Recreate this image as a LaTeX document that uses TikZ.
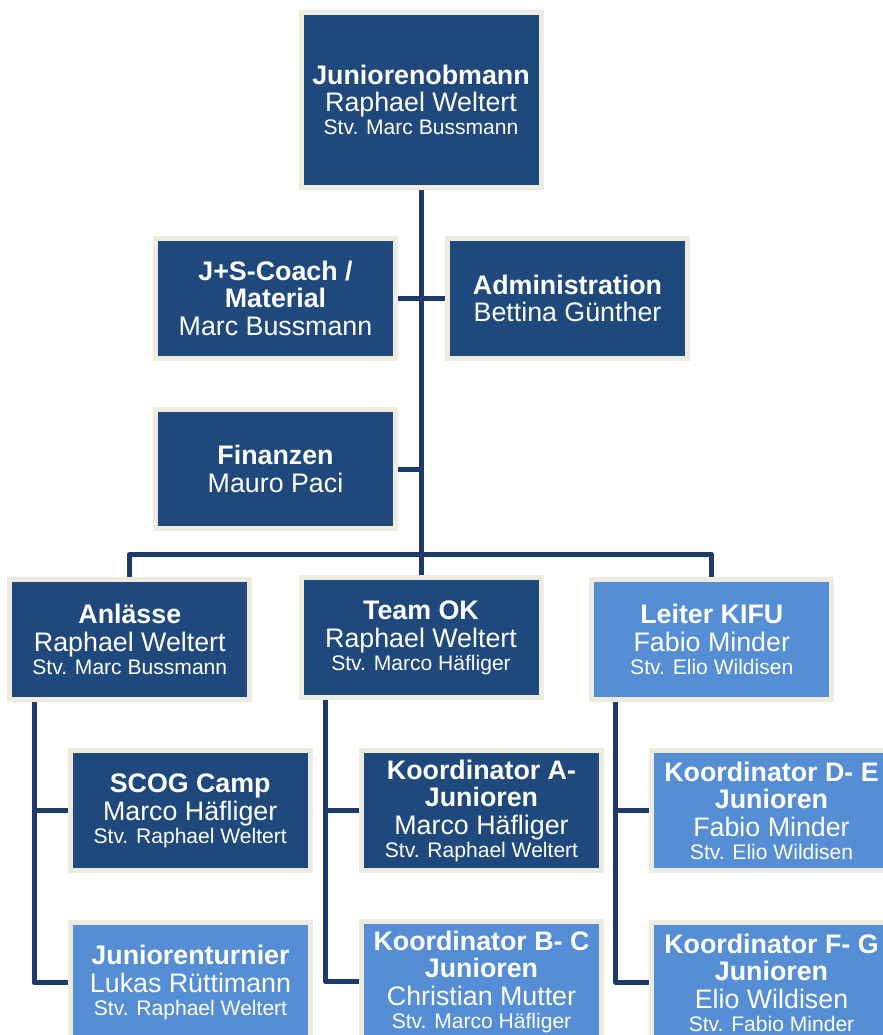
\documentclass[tikz,border=0pt]{standalone}
\usepackage{fontspec}
\setmainfont{Liberation Sans}
\usetikzlibrary{backgrounds}
\definecolor{dblue}{HTML}{1F497D}
\definecolor{lblue}{HTML}{558ED5}
\definecolor{beige}{HTML}{EEECE1}
\definecolor{navy}{HTML}{1E3A68}
\newcommand\mainsz{\fontsize{20.1}{20.6}\selectfont}
\newcommand\stvline[1]{\\[-3.35pt]{\fontsize{15.8}{17}\selectfont #1}}
\tikzset{
  orgbox/.style={draw=beige, line width=3.75pt, fill=dblue, text=white, align=center,
    inner sep=0pt, minimum width=180pt, minimum height=90pt, font=\mainsz},
  lorgbox/.style={orgbox, fill=lblue},
  conn/.style={draw=navy, line width=3.75pt, line join=round},
}
\begin{document}
\begin{tikzpicture}[x=0.75pt,y=-0.75pt]
\useasboundingbox (0,0) rectangle (882,1035);

\node[orgbox, minimum height=131.25pt] (top) at (421,100) {\textbf{Juniorenobmann}\\Raphael Weltert\stvline{Stv. Marc Bussmann}};
\node[orgbox] (js) at (275.5,298.2) {\textbf{J+S-Coach /}\\\textbf{Material}\\Marc Bussmann};
\node[orgbox] (admin) at (567.5,298.2) {\textbf{Administration}\\Bettina Günther};
\node[orgbox, minimum height=89.5pt] (fin) at (275.5,469) {\textbf{Finanzen}\\Mauro Paci};

\node[orgbox] (anl) at (129.8,639.5) {\textbf{Anlässe}\\Raphael Weltert\stvline{Stv. Marc Bussmann}};
\node[orgbox] (team) at (421,637.6) {\textbf{Team OK}\\Raphael Weltert\stvline{Stv. Marco Häfliger}};
\node[lorgbox] (kifu) at (711.8,639.6) {\textbf{Leiter KIFU}\\Fabio Minder\stvline{Stv. Elio Wildisen}};

\node[orgbox] (scog) at (190.2,810.8) {\textbf{SCOG Camp}\\Marco Häfliger\stvline{Stv. Raphael Weltert}};
\node[orgbox] (koa) at (481.5,810.8) {\textbf{Koordinator A-}\\\textbf{Junioren}\\Marco Häfliger\stvline{Stv. Raphael Weltert}};
\node[lorgbox] (kode) at (771.5,810.8) {\textbf{Koordinator D- E}\\\textbf{Junioren}\\Fabio Minder\stvline{Stv. Elio Wildisen}};

\node[lorgbox] (jtur) at (190.5,982.5) {\textbf{Juniorenturnier}\\Lukas Rüttimann\stvline{Stv. Raphael Weltert}};
\node[lorgbox] (kobc) at (481.5,981.8) {\textbf{Koordinator B- C}\\\textbf{Junioren}\\Christian Mutter\stvline{Stv. Marco Häfliger}};
\node[lorgbox] (kofg) at (771.5,982.5) {\textbf{Koordinator F- G}\\\textbf{Junioren}\\Elio Wildisen\stvline{Stv. Fabio Minder}};

\coordinate (bus) at (421,554.5);
\coordinate (a1) at (34,690);
\coordinate (t1) at (325.5,690);
\coordinate (k1) at (615.5,690);

\begin{scope}[on background layer]
\fill[white] (0,0) rectangle (882,1035);
\draw[conn] (top.south) -- (team.north);
\draw[conn] (js.east) -- (admin.west);
\draw[conn] (fin.east) -- (fin.east -| top.south);
\draw[conn] (anl.north) -- (anl.north |- bus) -- (kifu.north |- bus) -- (kifu.north);
\draw[conn] (a1) |- (scog.west);
\draw[conn] (a1) |- (jtur.west);
\draw[conn] (t1) |- (koa.west);
\draw[conn] (t1) |- (kobc.west);
\draw[conn] (k1) |- (kode.west);
\draw[conn] (k1) |- (kofg.west);
\end{scope}
\end{tikzpicture}
\end{document}
